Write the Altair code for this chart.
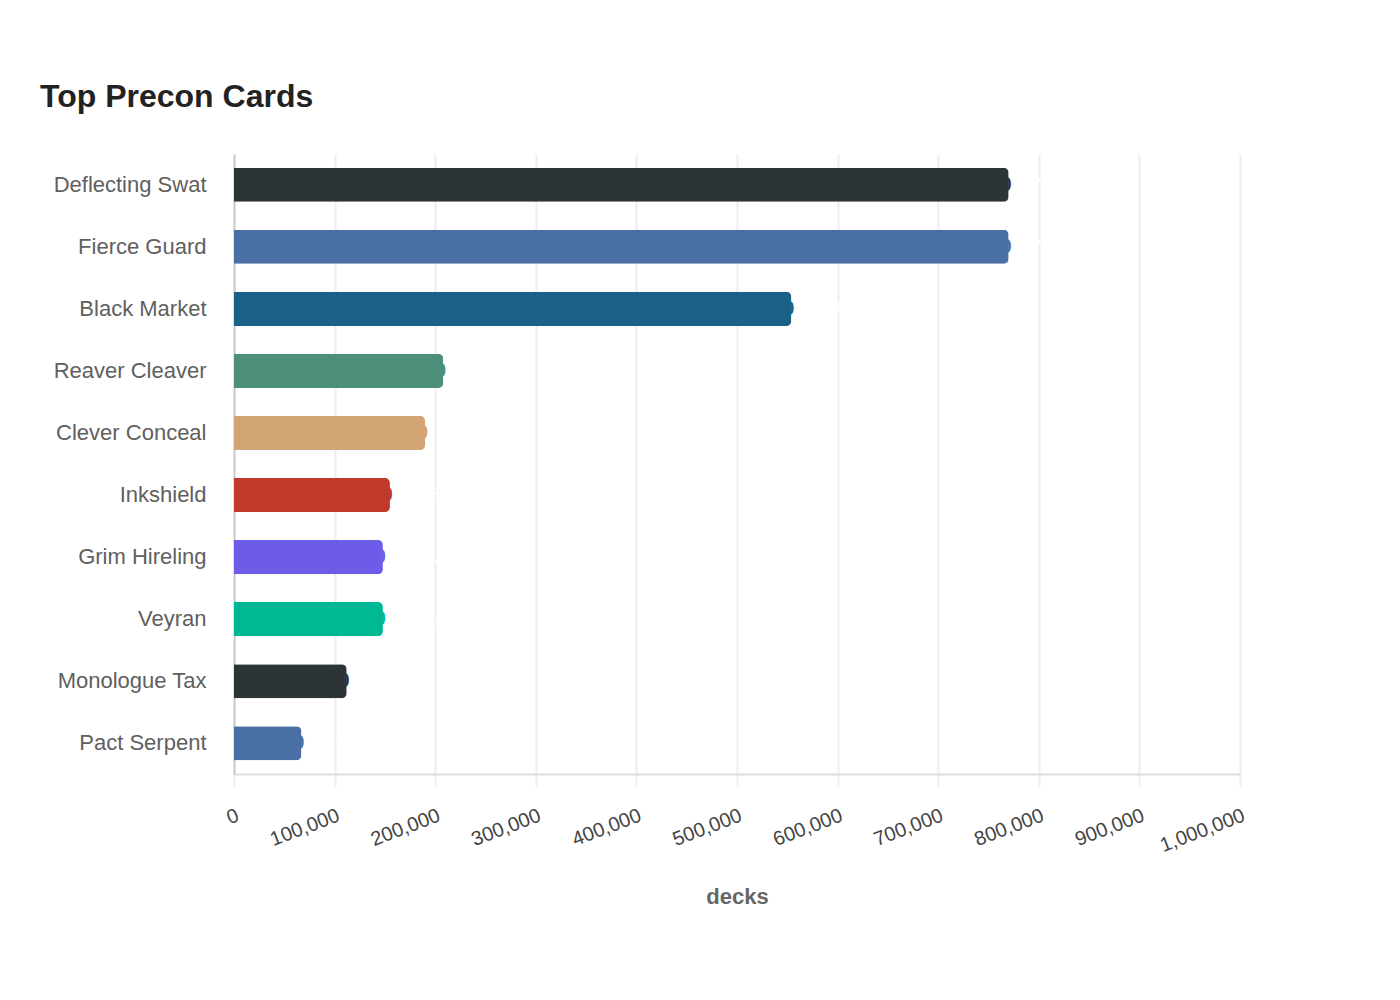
import altair as alt
import pandas as pd

cards = ["Deflecting Swat", "Fierce Guard", "Black Market", "Reaver Cleaver", "Clever Conceal",
         "Inkshield", "Grim Hireling", "Veyran", "Monologue Tax", "Pact Serpent"]
decks = [770000, 770000, 554000, 208000, 190000, 155000, 148000, 148000, 112000, 67000]
colors = ["#2d3436", "#4a6fa5", "#1a6187", "#4e8f7b", "#d4a574",
          "#c0392b", "#6c5ce7", "#00b894", "#2d3436", "#4a6fa5"]

df = pd.DataFrame({"card": cards, "decks": decks, "color": colors})

x_enc = alt.X("decks:Q",
              title="decks",
              scale=alt.Scale(domain=[0, 1000000], nice=False),
              axis=alt.Axis(values=list(range(0, 1000001, 100000)), format=",d",
                            labelAngle=-21, labelAlign="right", labelBaseline="top",
                            labelFontSize=20, labelColor="#444", labelPadding=19,
                            labelFont="Liberation Sans",
                            tickSize=12, tickColor="#eeeeee", tickWidth=2,
                            grid=True, gridColor="#eeeeee", gridWidth=2,
                            domainColor="#dddddd", domainWidth=2,
                            titleFontSize=22, titleFontWeight="bold", titleColor="#666",
                            titleFont="Liberation Sans", titlePadding=31))
y_enc = alt.Y("card:N", sort=cards, title=None,
              scale=alt.Scale(paddingInner=0.45, paddingOuter=0.22),
              axis=alt.Axis(labelFontSize=22, labelColor="#606060", labelPadding=28,
                            labelFont="Liberation Sans",
                            ticks=False, grid=False, domainColor="#cccccc", domainWidth=2))

bars = alt.Chart(df).mark_bar(cornerRadiusEnd=5).encode(
    x=x_enc, y=y_enc, color=alt.Color("color:N", scale=None)
)

edge = alt.Chart(df).mark_text(align="right", baseline="middle", dx=3, fontSize=20,
                               fontWeight="bold", font="Liberation Sans").encode(
    x="decks:Q", y=alt.Y("card:N", sort=cards),
    text=alt.Text("decks:Q", format=",d"),
    color=alt.Color("color:N", scale=None),
)

labels = alt.Chart(df).mark_text(align="left", dx=24, fontSize=16, color="#ffffff",
                                 font="Liberation Sans").encode(
    x="decks:Q", y=alt.Y("card:N", sort=cards), text=alt.Text("decks:Q", format=",d")
)

chart = (bars + edge + labels).properties(
    width=1006, height=620,
    background="white",
    title=alt.TitleParams("Top Precon Cards", anchor="start", frame="group", dx=-194,
                          fontSize=32, fontWeight="bold", color="#222",
                          font="Liberation Sans", offset=40),
    autosize=alt.AutoSizeParams(type="none"),
    padding={"left": 234, "top": 154, "right": 160, "bottom": 226},
).configure_view(stroke=None, strokeWidth=0)

chart.save("out.html", embed_options={"renderer": "svg", "actions": False})
